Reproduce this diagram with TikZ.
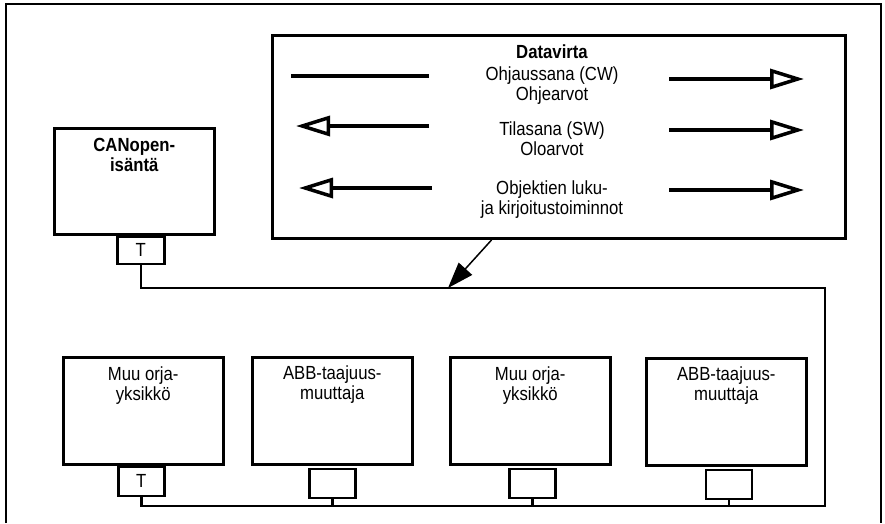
\documentclass[tikz,border=0pt]{standalone}
\usepackage{fontspec}
\setmainfont[FakeStretch=0.88]{Liberation Sans}
\usetikzlibrary{arrows.meta}

\tikzset{
  every node/.style={font=\fontsize{19}{20}\selectfont},
  unit/.style={draw, line width=2.5pt, minimum width=160pt, minimum height=107pt, inner sep=0pt, anchor=north west},
  port/.style={draw, line width=2.5pt, minimum width=46pt, minimum height=29pt, inner sep=0pt, anchor=north},
  caption/.style={align=center, inner sep=0pt, anchor=north},
  boldcap/.style={caption, font=\fontsize{19}{20}\selectfont\bfseries},
  bus/.style={line width=2.5pt},
  flow/.style={line width=3.5pt},
  hollow/.style={flow, -{Triangle[open, length=34pt, width=20pt]}},
}

\begin{document}
\begin{tikzpicture}[x=1pt, y=-1pt]
	\useasboundingbox (0,0) rectangle (885,523);
	\draw[line width=2.5pt] (6,523) -- (6,4) -- (881,4) -- (881,523);

	% master with its terminator
	\node[unit, minimum height=106pt] (master) at (53,127) {};
	\node[boldcap] (mastertxt) at ([yshift=-11pt]master.north) {CANopen-\\isäntä};
	\node[port, minimum height=27pt, minimum width=47pt] (tm) at ([xshift=6.5pt]master.south) {T};

	% data flow box
	\node[draw, line width=3pt, minimum width=573pt, minimum height=203pt, inner sep=0pt, anchor=north west] (dv) at (271,34) {};
	\node[boldcap, anchor=center] (dvtitle) at (552,52) {Datavirta};
	\node[caption] (cw) at (552,67) {Ohjaussana (CW)\\Ohjearvot};
	\node[caption] (sw) at (552,122) {Tilasana (SW)\\Oloarvot};
	\node[caption] (obj) at (552,181) {Objektien luku-\\ja kirjoitustoiminnot};

	\draw[flow] (291,76) -- (429,76);
	\draw[hollow] (669,79) -- (804,79);
	\draw[hollow] (429,126) -- (296,126);
	\draw[hollow] (669,130) -- (804,130);
	\draw[hollow] (432,188) -- (299,188);
	\draw[hollow] (669,190) -- (804,190);

	% slaves
	\node[unit] (s1) at (62,356) {};
	\node[unit] (s2) at (251,356) {};
	\node[unit] (s3) at (449,356) {};
	\node[unit] (s4) at (645,357) {};
	\node[caption] (s1txt) at ([yshift=-11pt]s1.north) {Muu orja-\\yksikkö};
	\node[caption] (s2txt) at ([yshift=-10pt]s2.north) {ABB-taajuus-\\muuttaja};
	\node[caption] (s3txt) at ([yshift=-11pt]s3.north) {Muu orja-\\yksikkö};
	\node[caption] (s4txt) at ([yshift=-10pt]s4.north) {ABB-taajuus-\\muuttaja};
	\node[port] (t1) at ([xshift=-2pt]s1.south) {T};
	\node[port] (p2) at ([yshift=-2pt]s2.south) {};
	\node[port] (p3) at ([xshift=2pt, yshift=-2pt]s3.south) {};
	\node[port] (p4) at ([xshift=2.5pt, yshift=-2pt]s4.south) {};

	% bus
	\coordinate (busne) at (825,288);
	\coordinate (busse) at (825,506);
	\coordinate (tap) at (448,288);
	\draw[bus] (tm.south) |- (busne) -- (busse) -| (t1.south);
	\foreach \p in {p2,p3,p4}
		\draw[bus] (\p.south) -- (\p.south |- busse);
	\draw[line width=1.5pt, -{Triangle[length=26pt, width=18pt]}] ([xshift=-67.5pt]dv.south) -- (tap);
\end{tikzpicture}
\end{document}
